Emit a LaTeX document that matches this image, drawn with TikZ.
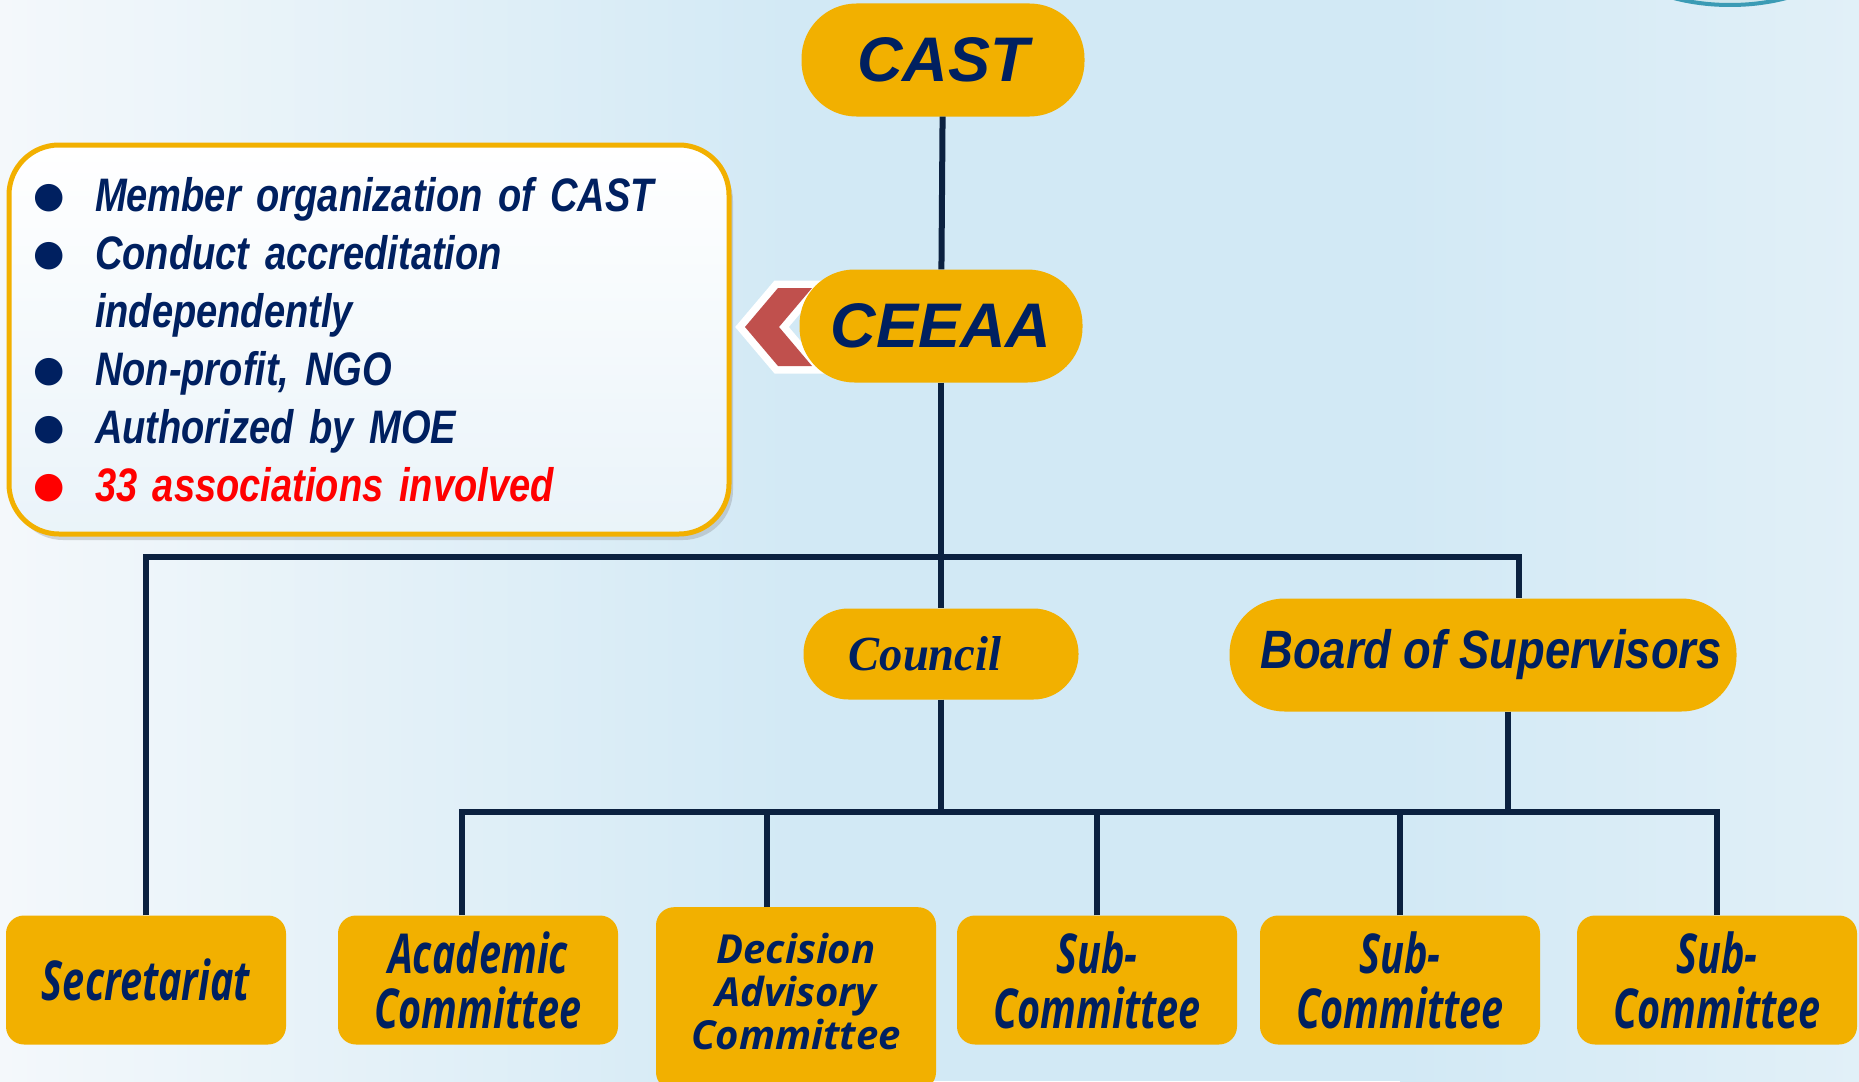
\documentclass[tikz,border=0pt]{standalone}
\usepackage{fontspec}
\setmainfont{Liberation Sans}
\newfontfamily\narrowsans[FakeStretch=0.81,WordSpace=0.7]{Liberation Sans}
\newfontfamily\boardsans[FakeStretch=0.84]{Liberation Sans}
\newfontfamily\councilserif[FakeStretch=0.95]{Liberation Serif}
\newfontfamily\unitsans[FakeStretch=0.72]{Open Sans}
\newfontfamily\plainunit{Open Sans}
\newfontfamily\dotfont{DejaVu Sans}
\usetikzlibrary{shadows,positioning}
\definecolor{gold}{HTML}{F2B000}
\definecolor{navy}{HTML}{002060}
\definecolor{wire}{HTML}{0B2140}
\definecolor{chevred}{HTML}{C0504D}
\definecolor{bgblue}{HTML}{D2E9F5}
\definecolor{bgwhite}{HTML}{F4F8FB}
\definecolor{ringteal}{HTML}{3B9BB5}
\newcommand\dotmark[1]{\makebox[57pt][l]{\hspace*{-5pt}\raisebox{4pt}{\textcolor{#1}{\dotfont\fontsize{36}{36}\selectfont\char"25CF}}}}

\begin{document}
\begin{tikzpicture}[x=1pt,y=-1pt]
  \tikzstyle{pill}=[fill=gold,text=navy,rounded corners=55pt,minimum width=283pt,
                    minimum height=113pt,font=\fontsize{63}{63}\selectfont\bfseries\itshape]
  \tikzstyle{body}=[fill=gold,text=navy,minimum height=113pt,rounded corners=55pt]
  \tikzstyle{unit}=[fill=gold,text=navy,rounded corners=18pt,minimum width=280pt,
                    minimum height=129pt,align=center,
                    font=\unitsans\fontsize{55}{55}\selectfont\bfseries\itshape]
  \tikzstyle{link}=[draw=wire,line width=6pt]

  \path[use as bounding box,clip] (0,0) rectangle (1859,1081);
  % background
  \shade[left color=bgwhite,right color=bgblue] (0,0) rectangle (801,1081);
  \fill[bgblue] (800,0) rectangle (1401,1081);
  \shade[left color=bgblue,right color=bgwhite!45!bgblue] (1400,0) rectangle (1859,1081);
  \draw[draw=ringteal,line width=4pt,fill=ringteal!25] (1730,-55) ellipse (120 and 60);

  % info box on the left
  \node[draw=gold,line width=5pt,top color=white,bottom color=bgwhite!70!bgblue,
        rounded corners=50pt,minimum width=720pt,minimum height=389pt,inner xsep=29pt,
        text width=662pt,align=left,text=navy,
        drop shadow={shadow xshift=4pt,shadow yshift=-6pt,opacity=0.3},
        font=\narrowsans\fontsize{47}{58}\selectfont\bfseries\itshape]
        (info) at (369,339.5)
        {\dotmark{navy}Member organization of CAST\\
         \dotmark{navy}Conduct accreditation\\
         \hspace*{57pt}independently\\
         \dotmark{navy}Non-profit, NGO\\
         \dotmark{navy}Authorized by MOE\\
         \dotmark{red}\textcolor{red}{33 associations involved}};

  % chevron pointing at CEEAA
  \filldraw[draw=white,line width=15pt,line join=miter,fill=chevred,
        drop shadow={shadow xshift=4pt,shadow yshift=-5pt,opacity=0.3}]
    (745,327) -- (778,288) -- (812,288) -- (779,327) -- (812,366) -- (778,366) -- cycle;
  \fill[chevred]
    (745,327) -- (778,288) -- (812,288) -- (779,327) -- (812,366) -- (778,366) -- cycle;

  \node[pill] (cast)  at (943,60)  {CAST};
  \node[pill] (ceeaa) at (941,326) {CEEAA};

  \node[body,minimum width=275pt,minimum height=91pt,rounded corners=45pt,
        font=\councilserif\fontsize{49}{49}\selectfont\bfseries\itshape] (council) at (941,654) {Council\hspace*{32pt}};
  \node[body,minimum width=507pt,
        font=\boardsans\fontsize{54}{54}\selectfont\bfseries\itshape] (board) at (1483,655) {\hspace*{16pt}Board of Supervisors};

  \node[unit] (secr) at (146,980)  {Secretariat};
  \node[unit] (acad) at (478,980)  {Academic\\Committee};
  \node[unit,minimum height=183pt,anchor=north,
        font=\plainunit\fontsize{40}{43}\selectfont\bfseries\itshape]
        (dac)  at (796,907) {Decision\\Advisory\\Committee\rule[-15pt]{0pt}{15pt}};
  \node[unit] (sub1) at (1097,980) {Sub-\\Committee};
  \node[unit] (sub2) at (1400,980) {Sub-\\Committee};
  \node[unit] (sub3) at (1717,980) {Sub-\\Committee};

  \coordinate (topbus) at (941,557);
  \coordinate (lowbus) at (941,812);

  \draw[link] (cast) -- (ceeaa);
  \draw[link] (ceeaa) -- (council);
  \draw[link] (secr.north) |- (topbus) -| ([xshift=36pt]board.north);
  \draw[link] (council.south) -- (council.south |- lowbus);
  \draw[link] ([xshift=25pt]board.south) -- ([xshift=25pt]board.south |- lowbus);
  \draw[link] ([xshift=-16pt]acad.north) |- (lowbus) -| (sub3.north);
  \draw[link] ([xshift=-29pt]dac.north) -- ([xshift=-29pt]dac.north |- lowbus);
  \draw[link] (sub1.north) -- (sub1.north |- lowbus);
  \draw[link] (sub2.north) -- (sub2.north |- lowbus);

\end{tikzpicture}
\end{document}
